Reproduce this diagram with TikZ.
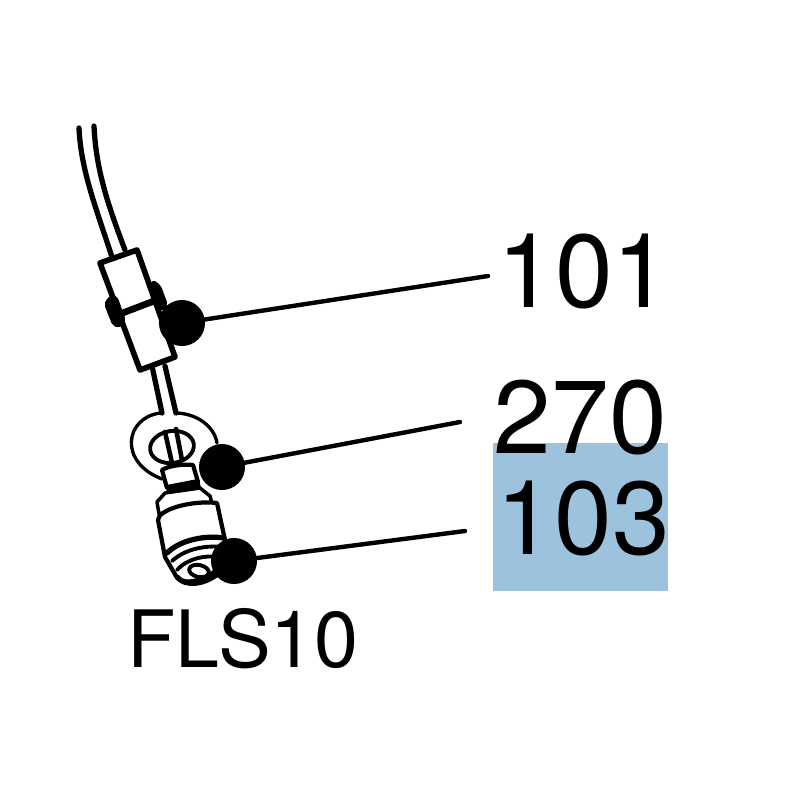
\documentclass[tikz,border=0pt]{standalone}
\usepackage{fontspec}
\setmainfont{TeX Gyre Heros}
\usetikzlibrary{positioning, calc}
\definecolor{markblue}{HTML}{9DC2DD}
\tikzset{
  part/.style={
	x=0.01cm, y=-0.01cm, % one unit is one pixel of the drawing
	line join=round, line cap=round,
	every node/.style={inner sep=0pt, outer sep=0pt},
  },
  dot/.style={circle, fill=black, minimum size=0.46cm},
  leader/.style={line width=1.25pt},
  wire/.style={line width=1.5pt},
  thick part/.style={line width=1.6pt, fill=white},
  body part/.style={line width=1.2pt, fill=white},
  fine part/.style={line width=0.95pt},
  bignum/.style={font=\fontsize{29.5}{30}\selectfont},
  name part/.style={font=\fontsize{22.5}{24}\selectfont},
}
\begin{document}
\begin{tikzpicture}[part]
	\useasboundingbox (0,0) rectangle (800,800);
	\node[fill=markblue, minimum width=1.75cm, minimum height=1.48cm] (mark) at (580.5,517) {};

	% cable and ferrule
	\draw[wire] (79,128) .. controls (81,170) and (95,205) .. (112,257);
	\draw[wire] (94,126) .. controls (96,170) and (108,205) .. (125,250);
	\draw[wire] (152,366) -- (162,413);
	\draw[wire] (165,366) -- (176,413);
	\draw[thick part] (100,263) -- (137,250) -- (175,357) -- (140,370) -- cycle;
	\draw[fill=black, line width=1pt, rounded corners=1.5pt] (105,302) -- (115,295) -- (125,323) -- (115,327) -- cycle;
	\draw[fill=black, line width=1pt, rounded corners=1.5pt] (150,283) -- (158,283) -- (167,307) -- (157,310) -- cycle;
	\draw[line width=1.9pt] (120,314) -- (154,301);

	% washer
	\draw[fine part] (160,413) .. controls (125,418) and (118,462) .. (162,479);
	\draw[fine part] (175,413) .. controls (195,413) and (214,425) .. (217,443);
	\draw[fine part, line width=1.1pt, rotate around={8:(172,447)}] (172,447) ellipse (22 and 16);
	\draw[wire, line width=1.3pt] (165,432) -- (172,463);
	\draw[wire, line width=1.3pt] (176,429) -- (182,460);

	% fitting
	\draw[body part] (162,470) .. controls (170,465) and (185,464) .. (193,465) -- (198,482) -- (167,488) -- cycle;
	\draw[fill=black, line width=0.6pt] (167,486) -- (198,480) -- (200,488) -- (168,494) -- cycle;
	\draw[body part, line width=1pt] (157,502) -- (165,493) -- (200,488) -- (210,496) -- (212,504) -- (159,514) -- cycle;
	\draw[body part] (158,520) .. controls (158,510) and (190,500) .. (217,503)
		-- (225,540) -- (228,556) .. controls (220,575) and (185,590) .. (176,576) -- (165,557) -- cycle;
	\draw[line width=1.5pt] (167,553) .. controls (180,540) and (205,535) .. (224,538);
	\draw[line width=1.1pt] (172,561) .. controls (185,549) and (205,545) .. (224,547);
	\draw[line width=1.1pt] (177,570) .. controls (188,558) and (205,555) .. (222,557);
	\draw[fine part, line width=1.1pt, rotate around={-12:(199,571)}] (199,571) ellipse (10 and 6);
	\draw[line width=1.5pt] (177,577) .. controls (185,587) and (205,585) .. (220,572);

	% balloons
	\node[dot] (d101) at (182,323) {};
	\node[dot] (d270) at (222,467) {};
	\node[dot] (d103) at (234,561) {};
	\coordinate (e101) at (488,276);
	\coordinate (e270) at (460,422);
	\coordinate (e103) at (465,531);

	\draw[leader] (d101) -- (e101);
	\draw[leader] (d270) -- (e270);
	\draw[leader] (d103) -- (e103);

	\node[bignum] (n101) at (584,271) {101};
	\node[bignum] (n270) at (580.5,417) {270};
	\node[bignum] (n103) at (583.5,518) {103};
	\node[name part] (fls) at (243,639) {FLS10};
\end{tikzpicture}
\end{document}
